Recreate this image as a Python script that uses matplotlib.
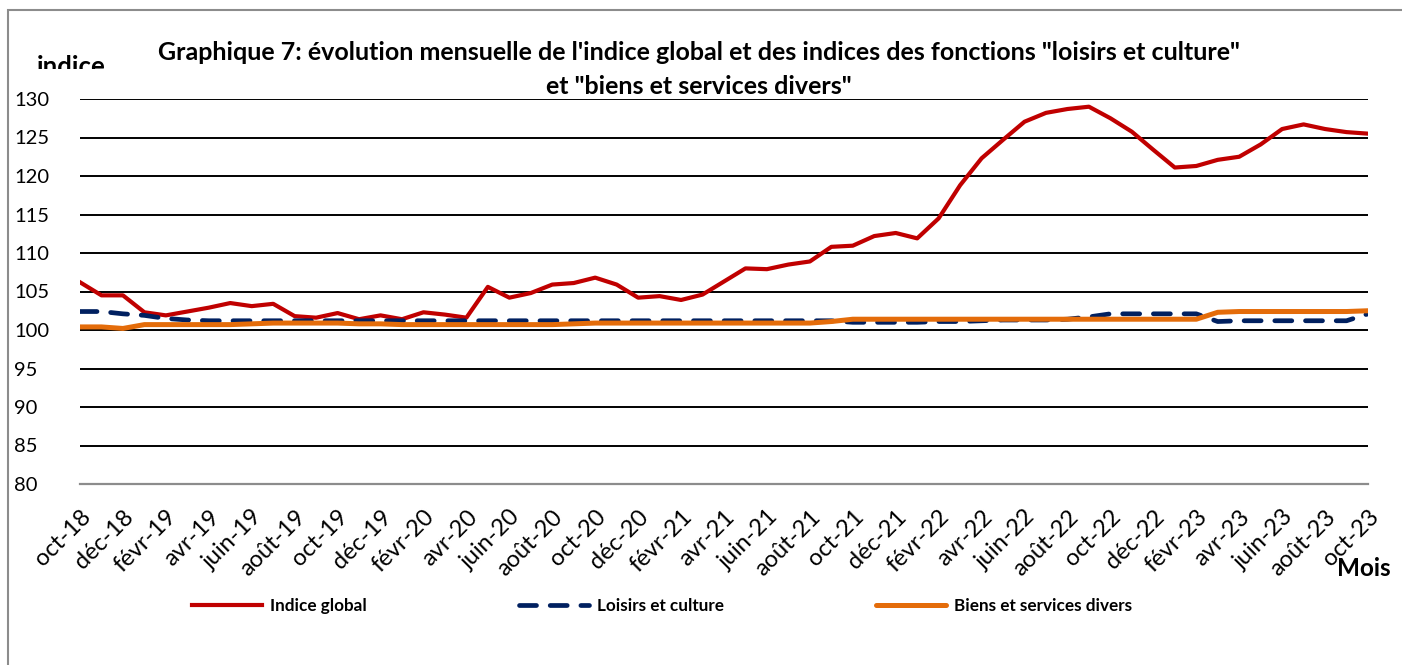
"""Graphique 7 : evolution mensuelle de l'indice global et des indices
"loisirs et culture" et "biens et services divers" (oct-18 a oct-23)."""
import matplotlib
matplotlib.use("Agg")
import matplotlib.pyplot as plt
from matplotlib.patches import Rectangle
from matplotlib.transforms import Bbox

plt.rcParams["font.family"] = ["Lato", "DejaVu Sans"]

MOIS_NOMS = ["janv", "févr", "mars", "avr", "mai", "juin",
             "juil", "août", "sept", "oct", "nov", "déc"]
mois = [f"{MOIS_NOMS[(9 + k) % 12]}-{18 + (9 + k) // 12}" for k in range(61)]

indice_global = [106.2, 104.5, 104.5, 102.3, 101.9, 102.4, 102.9, 103.5, 103.1, 103.4,
                 101.8, 101.6, 102.2, 101.4, 101.9, 101.4, 102.3, 102.0, 101.6, 105.6,
                 104.2, 104.8, 105.9, 106.1, 106.8, 105.9, 104.2, 104.4, 103.9, 104.6,
                 106.3, 108.0, 107.9, 108.5, 108.9, 110.8, 110.95, 112.2, 112.6, 111.9,
                 114.5, 118.8, 122.3, 124.7, 127.05, 128.2, 128.7, 129.0, 127.5, 125.75,
                 123.4, 121.1, 121.3, 122.1, 122.5, 124.1, 126.1, 126.7, 126.1, 125.7,
                 125.5]
loisirs_culture = [102.4, 102.4, 102.1, 101.9, 101.5, 101.3, 101.2, 101.2, 101.2, 101.2,
                   101.2, 101.2, 101.2, 101.2, 101.2, 101.2, 101.2, 101.2, 101.2, 101.2,
                   101.2, 101.2, 101.2, 101.2, 101.2, 101.2, 101.2, 101.2, 101.2, 101.2,
                   101.2, 101.2, 101.2, 101.2, 101.2, 101.2, 101.0, 101.0, 101.0, 101.0,
                   101.1, 101.1, 101.2, 101.3, 101.3, 101.3, 101.4, 101.7, 102.1, 102.1,
                   102.1, 102.1, 102.1, 101.1, 101.2, 101.2, 101.2, 101.2, 101.2, 101.2,
                   102.1]
biens_services = [100.4, 100.4, 100.2, 100.7, 100.7, 100.7, 100.7, 100.7, 100.8, 100.9,
                  100.9, 100.9, 100.9, 100.8, 100.8, 100.7, 100.7, 100.7, 100.7, 100.7,
                  100.7, 100.7, 100.7, 100.8, 100.9, 100.9, 100.9, 100.9, 100.9, 100.9,
                  100.9, 100.9, 100.9, 100.9, 100.9, 101.1, 101.4, 101.4, 101.4, 101.4,
                  101.4, 101.4, 101.4, 101.4, 101.4, 101.4, 101.4, 101.4, 101.4, 101.4,
                  101.4, 101.4, 101.4, 102.3, 102.4, 102.4, 102.4, 102.4, 102.4, 102.4,
                  102.5]
y_ticks = list(range(80, 131, 5))

W, H = 1402, 665
fig = plt.figure(figsize=(W / 100, H / 100), dpi=100)
fig.patch.set_facecolor("white")

# cadre gris du graphique
fig.patches.append(Rectangle((8 / W, -0.1), 1.2, 1.1 - 10 / H, transform=fig.transFigure,
                             fill=False, edgecolor="#8c8c8c", linewidth=1.5))

ax = fig.add_axes([80 / W, 1 - 484 / H, (1368 - 80) / W, (484 - 99) / H])
x = list(range(len(mois)))

ax.plot(x, indice_global, color="#C00000", lw=3, label="Indice global",
        solid_joinstyle="round", zorder=3)
ax.plot(x, loisirs_culture, color="#002060", lw=3.4, linestyle=(0, (3.6, 2.9)),
        dash_capstyle="round", label="Loisirs et culture", zorder=4)
ax.plot(x, biens_services, color="#E46C0A", lw=3.6, label="Biens et services divers",
        solid_capstyle="round", zorder=5)

ax.set_xlim(0, len(mois) - 1)
ax.set_ylim(80, 130)
ax.set_yticks(y_ticks)
for v in y_ticks[1:]:
    ax.axhline(v, color="black", lw=1.4, zorder=1)
for s in ("top", "right", "left"):
    ax.spines[s].set_visible(False)
ax.spines["bottom"].set_color("#8c8c8c")
ax.spines["bottom"].set_linewidth(1.6)

ax.tick_params(axis="y", length=0, pad=47.5, labelsize=14.5)
for lab in ax.get_yticklabels():
    lab.set_horizontalalignment("left")
ax.set_xticks(x[::2])
ax.set_xticklabels(mois[::2], rotation=45, ha="right", rotation_mode="anchor",
                   fontsize=17)
ax.tick_params(axis="x", length=0, pad=16)

fig.text(1364 / W, 1 - 569 / H, "Mois", fontsize=17.5, fontweight="bold",
         ha="center", va="center")

t = fig.text(71 / W, 1 - 67 / H, "indice", fontsize=18.5, fontweight="bold",
             ha="center", va="center")
t.set_clip_box(Bbox([[0, H - 69], [300, H]]))

fig.text(699 / W, 1 - 53 / H,
         "Graphique 7: évolution mensuelle de l'indice global et des indices des "
         "fonctions \"loisirs et culture\"",
         fontsize=18, fontweight="bold", ha="center", va="center")
fig.text(699 / W, 1 - 87 / H, "et \"biens et services divers\"",
         fontsize=18, fontweight="bold", ha="center", va="center")

handles, labels = ax.get_legend_handles_labels()
leg = fig.legend(handles, labels, loc="center", ncol=3,
                 bbox_to_anchor=(662 / W, 1 - 606 / H), frameon=False,
                 handlelength=4.1, handletextpad=0.47, columnspacing=8.9,
                 prop={"weight": "bold", "size": 12.3})

fig.savefig("out.png", dpi=100, facecolor="white")
